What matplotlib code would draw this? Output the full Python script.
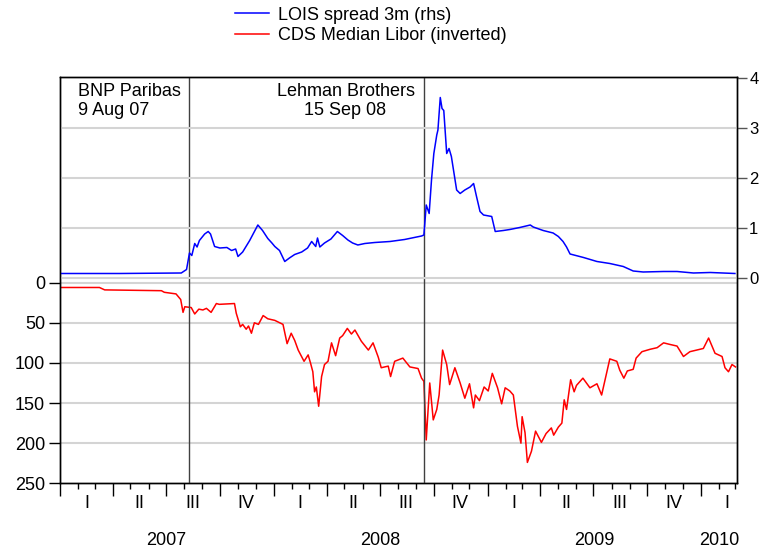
import matplotlib
matplotlib.use("Agg")
import matplotlib.pyplot as plt
import matplotlib.dates as mdates
import matplotlib.transforms as mtransforms
import pandas as pd

plt.rcParams['font.family'] = ['Liberation Sans', 'DejaVu Sans']

# LOIS spread 3m (rhs)
lois_dates = ["2007-01-02", "2007-04-12", "2007-07-27", "2007-08-05", "2007-08-10", "2007-08-14",
              "2007-08-19", "2007-08-23", "2007-08-27", "2007-09-05", "2007-09-11", "2007-09-15",
              "2007-09-22", "2007-10-01", "2007-10-13", "2007-10-21", "2007-10-28", "2007-11-01",
              "2007-11-09", "2007-11-21", "2007-12-05", "2007-12-13", "2007-12-22", "2007-12-29",
              "2008-01-03", "2008-01-11", "2008-01-20", "2008-01-28", "2008-02-06", "2008-02-18",
              "2008-02-28", "2008-03-06", "2008-03-13", "2008-03-16", "2008-03-20", "2008-03-28",
              "2008-04-08", "2008-04-19", "2008-04-28", "2008-05-07", "2008-05-15", "2008-05-24",
              "2008-06-05", "2008-06-22", "2008-07-18", "2008-08-12", "2008-09-10", "2008-09-14",
              "2008-09-18", "2008-09-23", "2008-09-27", "2008-10-01", "2008-10-06", "2008-10-08",
              "2008-10-12", "2008-10-15", "2008-10-18", "2008-10-23", "2008-10-27", "2008-10-31",
              "2008-11-09", "2008-11-15", "2008-11-23", "2008-12-02", "2008-12-08", "2008-12-13",
              "2008-12-19", "2008-12-25", "2009-01-08", "2009-01-14", "2009-01-28", "2009-02-08",
              "2009-02-25", "2009-03-15", "2009-03-20", "2009-04-06", "2009-04-23", "2009-05-02",
              "2009-05-10", "2009-05-16", "2009-05-22", "2009-06-14", "2009-07-07", "2009-07-29",
              "2009-08-21", "2009-09-07", "2009-09-24", "2009-10-29", "2009-11-21", "2009-12-19",
              "2010-01-17", "2010-02-28"]
lois = [0.09, 0.09, 0.10, 0.17, 0.50, 0.45,
        0.69, 0.62, 0.75, 0.88, 0.93, 0.88,
        0.63, 0.60, 0.61, 0.55, 0.58, 0.43,
        0.52, 0.75, 1.06, 0.95, 0.79, 0.70,
        0.63, 0.55, 0.33, 0.40, 0.47, 0.52,
        0.60, 0.73, 0.63, 0.80, 0.62, 0.70,
        0.78, 0.93, 0.85, 0.76, 0.70, 0.66,
        0.69, 0.71, 0.73, 0.77, 0.84, 0.86,
        1.46, 1.29, 1.96, 2.49, 2.86, 2.96,
        3.61, 3.39, 3.35, 2.49, 2.59, 2.43,
        1.76, 1.69, 1.76, 1.82, 1.89, 1.63,
        1.33, 1.26, 1.23, 0.93, 0.95, 0.97,
        1.01, 1.06, 1.02, 0.95, 0.90, 0.83,
        0.73, 0.62, 0.48, 0.41, 0.33, 0.29,
        0.23, 0.14, 0.12, 0.13, 0.13, 0.10,
        0.11, 0.09]

# CDS Median Libor (inverted, lhs)
cds_dates = ["2007-01-02", "2007-03-09", "2007-03-18", "2007-06-23", "2007-06-28", "2007-07-18",
             "2007-07-26", "2007-07-30", "2007-08-02", "2007-08-13", "2007-08-19", "2007-08-26",
             "2007-09-02", "2007-09-08", "2007-09-16", "2007-09-25", "2007-09-30", "2007-10-26",
             "2007-10-29", "2007-11-05", "2007-11-09", "2007-11-15", "2007-11-19", "2007-11-24",
             "2007-11-29", "2007-12-06", "2007-12-14", "2007-12-22", "2008-01-03", "2008-01-17",
             "2008-01-24", "2008-01-31", "2008-02-06", "2008-02-12", "2008-02-22", "2008-02-29",
             "2008-03-04", "2008-03-08", "2008-03-11", "2008-03-14", "2008-03-18", "2008-03-23",
             "2008-03-28", "2008-04-03", "2008-04-09", "2008-04-16", "2008-04-23", "2008-04-28",
             "2008-05-06", "2008-05-13", "2008-05-19", "2008-05-30", "2008-06-11", "2008-06-19",
             "2008-06-28", "2008-07-03", "2008-07-15", "2008-07-19", "2008-07-26", "2008-08-09",
             "2008-08-21", "2008-09-04", "2008-09-10", "2008-09-14", "2008-09-18", "2008-09-21",
             "2008-09-24", "2008-09-30", "2008-10-06", "2008-10-10", "2008-10-16", "2008-10-23",
             "2008-10-28", "2008-11-06", "2008-11-15", "2008-11-23", "2008-12-01", "2008-12-08",
             "2008-12-11", "2008-12-18", "2008-12-26", "2009-01-02", "2009-01-09", "2009-01-18",
             "2009-01-25", "2009-01-31", "2009-02-08", "2009-02-14", "2009-02-21", "2009-02-27",
             "2009-03-01", "2009-03-06", "2009-03-10", "2009-03-17", "2009-03-24", "2009-04-03",
             "2009-04-11", "2009-04-20", "2009-04-24", "2009-05-02", "2009-05-08", "2009-05-12",
             "2009-05-16", "2009-05-23", "2009-05-29", "2009-06-02", "2009-06-13", "2009-06-25",
             "2009-07-07", "2009-07-15", "2009-07-24", "2009-07-29", "2009-08-10", "2009-08-15",
             "2009-08-22", "2009-08-28", "2009-09-07", "2009-09-12", "2009-09-22", "2009-10-06",
             "2009-10-18", "2009-10-29", "2009-11-09", "2009-11-21", "2009-12-02", "2009-12-13",
             "2010-01-05", "2010-01-14", "2010-01-25", "2010-02-06", "2010-02-11", "2010-02-17",
             "2010-02-23", "2010-03-01"]
cds = [6, 6, 9, 10, 12, 14,
       21, 37, 30, 31, 39, 33,
       34, 32, 37, 26, 27, 26,
       38, 55, 52, 58, 54, 63,
       50, 52, 41, 45, 47, 52,
       76, 63, 72, 84, 98, 90,
       100, 111, 136, 130, 154, 117,
       102, 98, 75, 91, 69, 66,
       57, 64, 59, 73, 84, 75,
       93, 106, 104, 117, 98, 94,
       105, 107, 119, 123, 196, 160,
       125, 171, 158, 140, 84, 102,
       127, 106, 125, 144, 126, 156,
       140, 147, 130, 135, 113, 131,
       151, 131, 135, 140, 179, 200,
       167, 187, 224, 210, 185, 199,
       188, 181, 190, 180, 175, 146,
       158, 121, 136, 128, 119, 131,
       126, 140, 111, 95, 98, 109,
       119, 110, 108, 94, 86, 83,
       81, 75, 77, 79, 92, 86,
       82, 69, 88, 92, 106, 111,
       102, 105]

events = ["2007-08-09", "2008-09-15"]
event_labels = ["BNP Paribas\n9 Aug 07", "Lehman Brothers\n15 Sep 08"]

quarter_names = ["I", "II", "III", "IV"]
years = [2007, 2008, 2009, 2010]
x_start, x_end = pd.Timestamp("2007-01-01"), pd.Timestamp("2010-03-03")

lois_x = pd.to_datetime(lois_dates)
cds_x = pd.to_datetime(cds_dates)

fs = 13

fig = plt.figure(figsize=(7.6, 5.5), dpi=100)
ax = fig.add_axes([0.0793, 0.1213, 0.89, 0.7387])
ax2 = ax.twinx()

grid_col = "#d4d4d4"
for v in [0, 50, 100, 150, 200]:
    ax.axhline(v, color=grid_col, lw=1.5, zorder=0)
for v in [0, 1, 2, 3]:
    ax2.axhline(v, color=grid_col, lw=1.5, zorder=0)

ln_cds, = ax.plot(cds_x, cds, color="#ff0000", lw=1.1, label="CDS Median Libor (inverted)")
ln_lois, = ax2.plot(lois_x, lois, color="#0000ff", lw=1.1, label="LOIS spread 3m (rhs)")

for d in events:
    ax.axvline(pd.Timestamp(d), color="#404040", lw=1.0, zorder=3)

ax.set_xlim(x_start, x_end)
ax.set_ylim(250, -256.3)
ax.set_yticks([0, 50, 100, 150, 200, 250])
ax2.set_ylim(-4.106, 4.02)
ax2.set_yticks([0, 1, 2, 3, 4])
ax2.set_yticklabels(["0", "1", "2", "3", "4"])

ax.tick_params(axis="y", direction="out", length=8, width=1, labelsize=fs, pad=3)
ax2.tick_params(axis="y", direction="out", length=7, width=1, labelsize=12, pad=2,
                color="#555555")

# quarterly major ticks, monthly minor ticks
ax.xaxis.set_major_locator(mdates.MonthLocator(bymonth=[1, 4, 7, 10]))
ax.xaxis.set_minor_locator(mdates.MonthLocator())
ax.xaxis.set_major_formatter(plt.NullFormatter())
ax.tick_params(axis="x", which="major", direction="out", length=9, width=1)
ax.tick_params(axis="x", which="minor", direction="out", length=4, width=1)

trans = mtransforms.blended_transform_factory(ax.transData, ax.transAxes)
for y in years:
    for q in range(4):
        qs = pd.Timestamp(year=y, month=3 * q + 1, day=1)
        if qs >= x_end:
            break
        ax.text(qs + pd.Timedelta(days=45), -0.05, quarter_names[q], transform=trans,
                ha="center", va="center", fontsize=fs)
    ys = pd.Timestamp(year=y, month=1, day=1)
    ye = min(pd.Timestamp(year=y, month=12, day=31), x_end)
    ax.text(ys + (ye - ys) / 2, -0.142, str(y), transform=trans,
            ha="center", va="center", fontsize=fs)

ax.text(pd.Timestamp("2007-02-01"), 0.985, event_labels[0], transform=trans,
        ha="left", va="top", fontsize=fs, linespacing=1.15)
ax.text(pd.Timestamp("2008-05-03"), 0.985, event_labels[1], transform=trans,
        ha="center", va="top", fontsize=fs, linespacing=1.15, multialignment="center")

for a in (ax, ax2):
    for s in a.spines.values():
        s.set_linewidth(1.0)
        s.set_color("black")

fig.legend(handles=[ln_lois, ln_cds], loc="upper left", bbox_to_anchor=(0.296, 1.006),
           frameon=False, fontsize=fs, handlelength=1.9, handletextpad=0.5,
           labelspacing=0.2, borderaxespad=0.15)

fig.savefig("out.png", dpi=100)
